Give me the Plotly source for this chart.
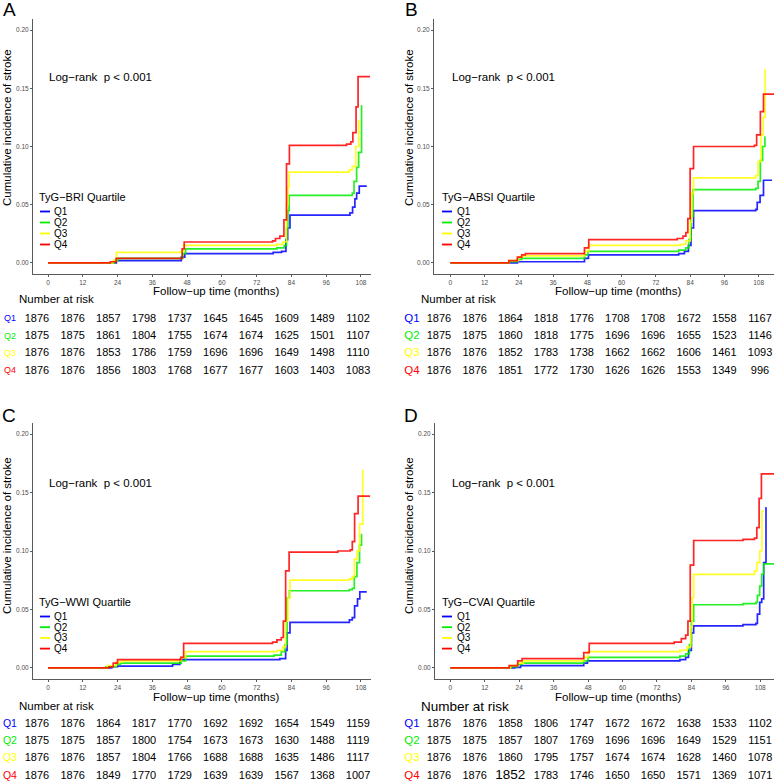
import plotly.graph_objects as go

W, H = 774, 784

# --- data ------------------------------------------------------------------
groups = ["Q1", "Q2", "Q3", "Q4"]
colors = ["#0000FF", "#00EE00", "#FFFF00", "#FF0000"]
month_ticks = [0, 12, 24, 36, 48, 60, 72, 84, 96, 108]
inc_ticks = [0.00, 0.05, 0.10, 0.15, 0.20]

# A: TyG-BRI
bri_q1_t = [0, 23.6, 46.0, 47.2, 77.7, 80.6, 82.1, 82.7, 83.5, 104.2, 105.1, 105.9, 106.5, 107.4, 110.0]
bri_q1_y = [0, 0.002, 0.005, 0.008, 0.009, 0.010, 0.020, 0.030, 0.041, 0.043, 0.048, 0.055, 0.060, 0.066, 0.066]
bri_q2_t = [0, 23.0, 24.2, 46.5, 47.5, 79.0, 81.5, 82.3, 82.8, 83.2, 105.0, 105.6, 106.5, 107.2, 108.2, 108.4]
bri_q2_y = [0, 0.002, 0.004, 0.008, 0.012, 0.013, 0.015, 0.030, 0.045, 0.058, 0.060, 0.070, 0.082, 0.095, 0.135, 0.135]
bri_q3_t = [0, 22.5, 23.6, 46.0, 46.8, 79.0, 81.0, 82.3, 82.8, 83.2, 104.0, 105.0, 106.2, 107.2, 107.5]
bri_q3_y = [0, 0.002, 0.009, 0.010, 0.015, 0.016, 0.018, 0.050, 0.065, 0.078, 0.080, 0.083, 0.100, 0.122, 0.122]
bri_q4_t = [0, 21.5, 23.5, 46.3, 47.0, 77.5, 78.5, 80.0, 81.4, 82.3, 83.3, 103.0, 104.5, 105.2, 106.3, 107.0, 111.1]
bri_q4_y = [0, 0.001, 0.004, 0.012, 0.018, 0.019, 0.021, 0.023, 0.037, 0.085, 0.101, 0.102, 0.104, 0.112, 0.134, 0.160, 0.160]

# B: TyG-ABSI
absi_q1_t = [0, 23.5, 47.0, 48.4, 80.0, 82.0, 83.4, 84.3, 85.2, 107.0, 107.5, 108.5, 109.7, 112.7]
absi_q1_y = [0, 0.001, 0.004, 0.007, 0.008, 0.010, 0.015, 0.030, 0.045, 0.046, 0.052, 0.058, 0.071, 0.071]
absi_q2_t = [0, 20.5, 23.5, 25.0, 47.0, 48.2, 80.0, 82.5, 83.6, 84.3, 85.0, 107.0, 107.8, 108.6, 109.4, 110.2, 110.4]
absi_q2_y = [0, 0.001, 0.003, 0.004, 0.007, 0.010, 0.011, 0.013, 0.020, 0.040, 0.063, 0.064, 0.070, 0.088, 0.100, 0.108, 0.108]
absi_q3_t = [0, 20.5, 23.8, 25.5, 47.0, 48.4, 80.5, 82.5, 84.0, 84.6, 85.2, 107.0, 107.8, 108.8, 109.6, 110.3, 110.5]
absi_q3_y = [0, 0.002, 0.005, 0.006, 0.010, 0.015, 0.016, 0.019, 0.035, 0.060, 0.073, 0.075, 0.087, 0.110, 0.125, 0.166, 0.166]
absi_q4_t = [0, 20.5, 23.5, 25.0, 26.3, 47.0, 48.5, 79.5, 81.5, 82.5, 83.2, 84.0, 85.2, 106.5, 107.3, 108.6, 109.7, 113.8]
absi_q4_y = [0, 0.002, 0.005, 0.007, 0.008, 0.013, 0.020, 0.021, 0.023, 0.026, 0.038, 0.081, 0.100, 0.101, 0.110, 0.130, 0.145, 0.145]

# C: TyG-WWI
wwi_q1_t = [0, 22.0, 24.0, 43.0, 45.5, 80.0, 82.0, 82.5, 83.5, 104.0, 105.0, 105.8, 106.8, 107.6, 110.0]
wwi_q1_y = [0, 0.001, 0.0015, 0.003, 0.007, 0.008, 0.015, 0.030, 0.039, 0.041, 0.043, 0.053, 0.059, 0.065, 0.065]
wwi_q2_t = [0, 20.0, 23.5, 25.0, 46.0, 47.5, 78.0, 80.5, 81.8, 82.5, 83.3, 104.0, 105.0, 105.7, 106.6, 107.5, 108.2, 108.4]
wwi_q2_y = [0, 0.001, 0.003, 0.004, 0.006, 0.010, 0.011, 0.014, 0.020, 0.060, 0.066, 0.067, 0.068, 0.078, 0.090, 0.105, 0.114, 0.114]
wwi_q3_t = [0, 20.5, 23.5, 25.5, 46.0, 47.5, 79.0, 81.0, 82.0, 82.8, 83.5, 104.0, 105.0, 105.7, 106.6, 107.5, 108.6, 108.8]
wwi_q3_y = [0, 0.002, 0.005, 0.006, 0.009, 0.014, 0.015, 0.018, 0.040, 0.060, 0.075, 0.076, 0.078, 0.093, 0.100, 0.123, 0.169, 0.169]
wwi_q4_t = [0, 21.0, 22.5, 24.0, 45.8, 46.8, 77.5, 79.0, 80.5, 81.2, 82.0, 83.2, 100.0, 104.3, 105.0, 105.8, 107.0, 111.1]
wwi_q4_y = [0, 0.001, 0.004, 0.007, 0.009, 0.021, 0.022, 0.024, 0.026, 0.040, 0.083, 0.099, 0.100, 0.101, 0.108, 0.132, 0.147, 0.147]

# D: TyG-CVAI
cvai_q1_t = [0, 22.5, 24.5, 46.5, 47.8, 80.0, 82.0, 83.0, 84.0, 84.8, 102.0, 106.5, 107.0, 107.8, 108.5, 109.2, 110.0, 110.2]
cvai_q1_y = [0, 0.0005, 0.002, 0.004, 0.006, 0.007, 0.009, 0.015, 0.030, 0.036, 0.037, 0.038, 0.046, 0.056, 0.059, 0.090, 0.137, 0.137]
cvai_q2_t = [0, 21.0, 23.5, 25.0, 46.5, 48.0, 80.0, 82.0, 83.3, 84.0, 84.8, 102.0, 106.5, 107.0, 107.8, 108.5, 109.2, 112.8]
cvai_q2_y = [0, 0.001, 0.003, 0.004, 0.006, 0.009, 0.010, 0.012, 0.020, 0.040, 0.054, 0.055, 0.056, 0.062, 0.070, 0.080, 0.089, 0.089]
cvai_q3_t = [0, 21.0, 23.5, 25.5, 46.5, 48.0, 80.0, 82.5, 83.8, 84.3, 84.8, 106.0, 106.8, 107.8, 108.6, 109.3]
cvai_q3_y = [0, 0.002, 0.004, 0.006, 0.009, 0.014, 0.015, 0.018, 0.035, 0.060, 0.080, 0.083, 0.090, 0.100, 0.134, 0.134]
cvai_q4_t = [0, 20.5, 23.5, 25.0, 46.5, 48.4, 78.0, 80.5, 82.0, 82.8, 83.6, 84.8, 102.0, 106.0, 106.8, 107.6, 108.4, 112.8]
cvai_q4_y = [0, 0.002, 0.006, 0.008, 0.013, 0.021, 0.022, 0.025, 0.028, 0.040, 0.088, 0.109, 0.110, 0.111, 0.120, 0.145, 0.166, 0.166]

# number at risk
bri_risk_q1 = [1876, 1876, 1857, 1798, 1737, 1645, 1645, 1609, 1489, 1102]
bri_risk_q2 = [1875, 1875, 1861, 1804, 1755, 1674, 1674, 1625, 1501, 1107]
bri_risk_q3 = [1876, 1876, 1853, 1786, 1759, 1696, 1696, 1649, 1498, 1110]
bri_risk_q4 = [1876, 1876, 1856, 1803, 1768, 1677, 1677, 1603, 1403, 1083]

absi_risk_q1 = [1876, 1876, 1864, 1818, 1776, 1708, 1708, 1672, 1558, 1167]
absi_risk_q2 = [1875, 1875, 1860, 1818, 1775, 1696, 1696, 1655, 1523, 1146]
absi_risk_q3 = [1876, 1876, 1852, 1783, 1738, 1662, 1662, 1606, 1461, 1093]
absi_risk_q4 = [1876, 1876, 1851, 1772, 1730, 1626, 1626, 1553, 1349, 996]

wwi_risk_q1 = [1876, 1876, 1864, 1817, 1770, 1692, 1692, 1654, 1549, 1159]
wwi_risk_q2 = [1875, 1875, 1857, 1800, 1754, 1673, 1673, 1630, 1488, 1119]
wwi_risk_q3 = [1876, 1876, 1857, 1804, 1766, 1688, 1688, 1635, 1486, 1117]
wwi_risk_q4 = [1876, 1876, 1849, 1770, 1729, 1639, 1639, 1567, 1368, 1007]

cvai_risk_q1 = [1876, 1876, 1858, 1806, 1747, 1672, 1672, 1638, 1533, 1102]
cvai_risk_q2 = [1875, 1875, 1857, 1807, 1769, 1696, 1696, 1649, 1529, 1151]
cvai_risk_q3 = [1876, 1876, 1860, 1795, 1757, 1674, 1674, 1628, 1460, 1078]
cvai_risk_q4 = [1876, 1876, 1852, 1783, 1746, 1650, 1650, 1571, 1369, 1071]

# --- layout (pixel positions of each panel) ---------------------------------
FONT = "Liberation Sans, Arial, Helvetica, sans-serif"

def px(x):
    return x / W

def py(y):
    return 1 - y / H

panels = [
    dict(letter="A", name="TyG\u2212BRI",
         curves=[(bri_q1_t, bri_q1_y), (bri_q2_t, bri_q2_y), (bri_q3_t, bri_q3_y), (bri_q4_t, bri_q4_y)],
         risk=[bri_risk_q1, bri_risk_q2, bri_risk_q3, bri_risk_q4],
         left=33, right=371, top=19, bottom=274, t0=48, scale=2.898, ox=0, oy=0,
         lab_size=9, nar_size=11.5),
    dict(letter="B", name="TyG\u2212ABSI",
         curves=[(absi_q1_t, absi_q1_y), (absi_q2_t, absi_q2_y), (absi_q3_t, absi_q3_y), (absi_q4_t, absi_q4_y)],
         risk=[absi_risk_q1, absi_risk_q2, absi_risk_q3, absi_risk_q4],
         left=434, right=774, top=19, bottom=274, t0=450.3, scale=2.855, ox=402, oy=0,
         lab_size=11.5, nar_size=11.5),
    dict(letter="C", name="TyG\u2212WWI",
         curves=[(wwi_q1_t, wwi_q1_y), (wwi_q2_t, wwi_q2_y), (wwi_q3_t, wwi_q3_y), (wwi_q4_t, wwi_q4_y)],
         risk=[wwi_risk_q1, wwi_risk_q2, wwi_risk_q3, wwi_risk_q4],
         left=33, right=371, top=423, bottom=679, t0=48, scale=2.898, ox=0, oy=405,
         lab_size=10.5, nar_size=11.5),
    dict(letter="D", name="TyG\u2212CVAI",
         curves=[(cvai_q1_t, cvai_q1_y), (cvai_q2_t, cvai_q2_y), (cvai_q3_t, cvai_q3_y), (cvai_q4_t, cvai_q4_y)],
         risk=[cvai_risk_q1, cvai_risk_q2, cvai_risk_q3, cvai_risk_q4],
         left=435, right=774, top=423, bottom=679, t0=450.3, scale=2.87, ox=402, oy=405,
         lab_size=11.5, nar_size=13.5),
]

fig = go.Figure()
layout = dict(width=W, height=H, margin=dict(l=0, r=0, t=0, b=0),
              paper_bgcolor="white", plot_bgcolor="white", showlegend=False,
              font=dict(family=FONT, color="black"))
annotations = []
shapes = []

axis_common = dict(showgrid=False, zeroline=False, showline=True, linecolor="#5a5a5a",
                   linewidth=1, ticks="outside", ticklen=2, tickwidth=0.8, tickcolor="#5a5a5a",
                   tickfont=dict(size=6.5, color="#4d4d4d", family=FONT))

col_step = 35.67
row_step = 17.3

for i, p in enumerate(panels):
    n = i + 1
    m = i + 5
    ox, oy = p["ox"], p["oy"]
    sfx = "" if n == 1 else str(n)

    # main KM panel
    xr = [(p["left"] - p["t0"]) / p["scale"], (p["right"] - p["t0"]) / p["scale"]]
    yr = [-0.0095, 0.2095]
    layout["xaxis" + sfx] = dict(axis_common, domain=[px(p["left"]), px(p["right"])], range=xr,
                                 tickvals=month_ticks, anchor="y" + sfx)
    layout["yaxis" + sfx] = dict(axis_common, domain=[py(p["bottom"]), py(p["top"])], range=yr,
                                 tickvals=inc_ticks, tickformat=".2f", anchor="x" + sfx)

    for (t, v), c in zip(p["curves"], colors):
        fig.add_trace(go.Scatter(x=t, y=v, mode="lines", xaxis="x" + sfx, yaxis="y" + sfx,
                                 line=dict(shape="hv", color=c, width=1.7), opacity=0.85,
                                 hoverinfo="skip"))

    # risk table axes
    tl = 0 if ox == 0 else 387
    tr = 371 if ox == 0 else 774
    c0 = 37 + ox
    row0 = 319 + oy
    ttop = 290 + oy
    tbot = 384 if oy == 0 else 784
    layout["xaxis" + str(m)] = dict(domain=[px(tl), px(tr)],
                                    range=[(tl - c0) / col_step, 9 + (tr - (c0 + 9 * col_step)) / col_step],
                                    visible=False, anchor="y" + str(m))
    layout["yaxis" + str(m)] = dict(domain=[py(tbot), py(ttop)],
                                    range=[(tbot - row0) / row_step, (ttop - row0) / row_step],
                                    visible=False, anchor="x" + str(m))
    for r, vals in enumerate(p["risk"]):
        sizes = [11] * len(vals)
        if p["letter"] == "D" and r == 3:
            sizes[2] = 13.5
        fig.add_trace(go.Scatter(x=list(range(len(vals))), y=[r] * len(vals), mode="text",
                                 text=[str(v) for v in vals], textposition="middle center",
                                 textfont=dict(size=sizes, color="black", family=FONT),
                                 xaxis="x" + str(m), yaxis="y" + str(m), hoverinfo="skip",
                                 cliponaxis=False))
    fig.add_trace(go.Scatter(x=[-0.76] * 4, y=list(range(4)), mode="text", text=groups,
                             textposition="middle center",
                             textfont=dict(size=p["lab_size"], color=colors, family=FONT),
                             xaxis="x" + str(m), yaxis="y" + str(m), hoverinfo="skip",
                             cliponaxis=False))

    # texts
    annotations += [
        dict(text=p["letter"], x=px(9 + ox), y=py(10 + oy), font=dict(size=19)),
        dict(text="Cumulative incidence of stroke", x=px(7 + ox), y=py(128 + oy + (3 if oy else 0)),
             textangle=-90, font=dict(size=11.5)),
        dict(text="Follow\u2212up time (months)", x=px(216 + ox), y=py(291 + oy + (1 if oy else 0)),
             font=dict(size=11.5)),
        dict(text="Number at risk", x=px(17 + ox), y=py(299 + oy + (2 if oy else 0)), xanchor="left",
             font=dict(size=p["nar_size"])),
        dict(text="Log\u2212rank\u00a0 p < 0.001", x=px(47 + ox + (1 if ox else 0)),
             y=py(77 + oy + (1 if oy else 0)), xanchor="left", font=dict(size=11.5)),
        dict(text=p["name"] + " Quartile", x=px(38 + ox + (1 if ox else 0)), y=py(197 + oy),
             xanchor="left", font=dict(size=11), borderpad=0),
    ]
    for k, (g, c) in enumerate(zip(groups, colors)):
        yy = py(211.5 + oy + 11 * k - (0.3 * k if oy else 0))
        shapes.append(dict(type="line", xref="paper", yref="paper",
                           x0=px(40 + ox), x1=px(50 + ox), y0=yy, y1=yy,
                           line=dict(color=c, width=1.8)))
        annotations.append(dict(text=g, x=px(53 + ox + (1 if ox else 0)), y=yy, xanchor="left",
                                font=dict(size=10), borderpad=0))

for a in annotations:
    a.setdefault("xref", "paper")
    a.setdefault("yref", "paper")
    a.setdefault("showarrow", False)
    a.setdefault("xanchor", "center")
    a.setdefault("yanchor", "middle")

layout["annotations"] = annotations
layout["shapes"] = shapes
fig.update_layout(**layout)

# page body has an 8px default margin; drop it so the figure fills the window
fig.write_html("out.html", config={"displayModeBar": False},
               post_script="document.body.style.margin='0px';")
